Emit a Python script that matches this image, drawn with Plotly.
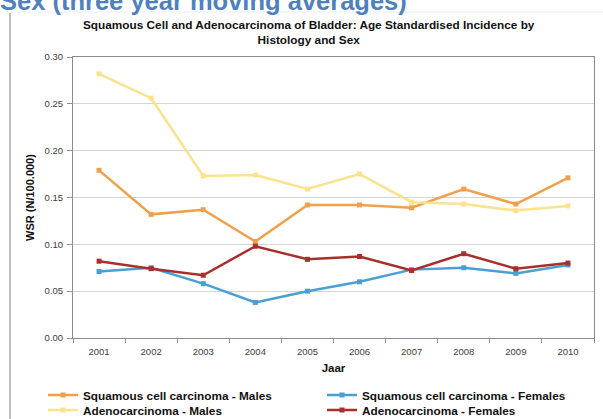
import plotly.graph_objects as go

years = ["2001", "2002", "2003", "2004", "2005", "2006", "2007", "2008", "2009", "2010"]
scc_males = [0.179, 0.132, 0.137, 0.103, 0.142, 0.142, 0.139, 0.159, 0.143, 0.171]
scc_females = [0.071, 0.075, 0.058, 0.038, 0.050, 0.060, 0.073, 0.075, 0.069, 0.078]
adeno_males = [0.282, 0.256, 0.173, 0.174, 0.159, 0.175, 0.145, 0.143, 0.136, 0.141]
adeno_females = [0.082, 0.074, 0.067, 0.098, 0.084, 0.087, 0.072, 0.090, 0.074, 0.080]

series = [
    ("Squamous cell carcinoma - Males", scc_males, "#F0A04B", "legend"),
    ("Squamous cell carcinoma - Females", scc_females, "#4A9FD4", "legend2"),
    ("Adenocarcinoma - Males", adeno_males, "#FAE38C", "legend3"),
    ("Adenocarcinoma - Females", adeno_females, "#A8302C", "legend4"),
]

W, H = 603, 419
ML, MR, MT, MB = 73, 9, 57, 81
PW, PH = W - ML - MR, H - MT - MB

def px_x(p):
    return (p - ML) / PW

def px_y(p):
    return 1 - (p - MT) / PH

font = "Liberation Sans, Arial, sans-serif"

fig = go.Figure()
for name, vals, col, leg in series:
    fig.add_trace(go.Scatter(
        x=years, y=vals, name=name, mode="lines+markers",
        line=dict(color=col, width=2.5),
        marker=dict(symbol="square", size=5, color=col),
        legend=leg,
    ))

legfont = dict(family=font, size=11.8, color="#111111", weight="bold")

def leg(xp, yp):
    return dict(orientation="v", x=px_x(xp), y=px_y(yp), xanchor="left", yanchor="top",
                font=legfont, itemwidth=30, tracegroupgap=0, bgcolor="rgba(0,0,0,0)")

fig.update_layout(
    width=W, height=H,
    margin=dict(l=ML, r=MR, t=MT, b=MB, autoexpand=False),
    paper_bgcolor="white", plot_bgcolor="white",
    font=dict(family=font, size=9.5, color="#404040"),
    showlegend=True,
    legend=leg(43, 380.5),
    legend2=leg(322, 380.5),
    legend3=leg(43, 395.5),
    legend4=leg(322, 395.5),
    xaxis=dict(
        type="category", tickson="boundaries", ticks="outside", ticklen=4,
        tickcolor="#8c8c8c", showgrid=False, showline=True, linecolor="#8c8c8c",
        linewidth=1, mirror=True, ticklabelstandoff=5,
        tickfont=dict(family=font, size=9.5, color="#404040"),
        title=dict(text="Jaar", standoff=7,
                   font=dict(family=font, size=11.5, color="#111111", weight="bold")),
        range=[-0.5, 9.5],
    ),
    yaxis=dict(
        range=[0, 0.30], dtick=0.05, tickformat=".2f", ticks="outside", ticklen=5,
        tickcolor="#8c8c8c", showgrid=True, gridcolor="#d4d4d4", gridwidth=1,
        showline=True, linecolor="#8c8c8c", linewidth=1, mirror=True,
        zeroline=False, ticklabelstandoff=2,
        tickfont=dict(family=font, size=9.5, color="#404040"),
        title=dict(text="WSR (N/100.000)", standoff=7,
                   font=dict(family=font, size=11, color="#111111", weight="bold")),
    ),
    annotations=[
        dict(text="Squamous Cell and Adenocarcinoma of Bladder: Age Standardised Incidence by<br>Histology and Sex",
             x=px_x(309), y=px_y(32.5), xref="paper", yref="paper",
             xanchor="center", yanchor="middle", showarrow=False,
             font=dict(family=font, size=11.8, color="#111111", weight="bold")),
        dict(text="Sex (three year moving averages)",
             x=px_x(-2), y=px_y(1), xref="paper", yref="paper",
             xanchor="left", yanchor="middle", showarrow=False,
             font=dict(family=font, size=25.5, color="#4F81BD", weight="bold")),
    ],
    shapes=[
        dict(type="line", xref="paper", yref="paper", x0=px_x(10), x1=px_x(10),
             y0=px_y(13), y1=px_y(419), line=dict(color="#7f7f7f", width=1)),
        dict(type="line", xref="paper", yref="paper", x0=px_x(10), x1=px_x(603),
             y0=px_y(12), y1=px_y(12), line=dict(color="#ececec", width=1)),
    ],
)

fig.write_html("out.html")
